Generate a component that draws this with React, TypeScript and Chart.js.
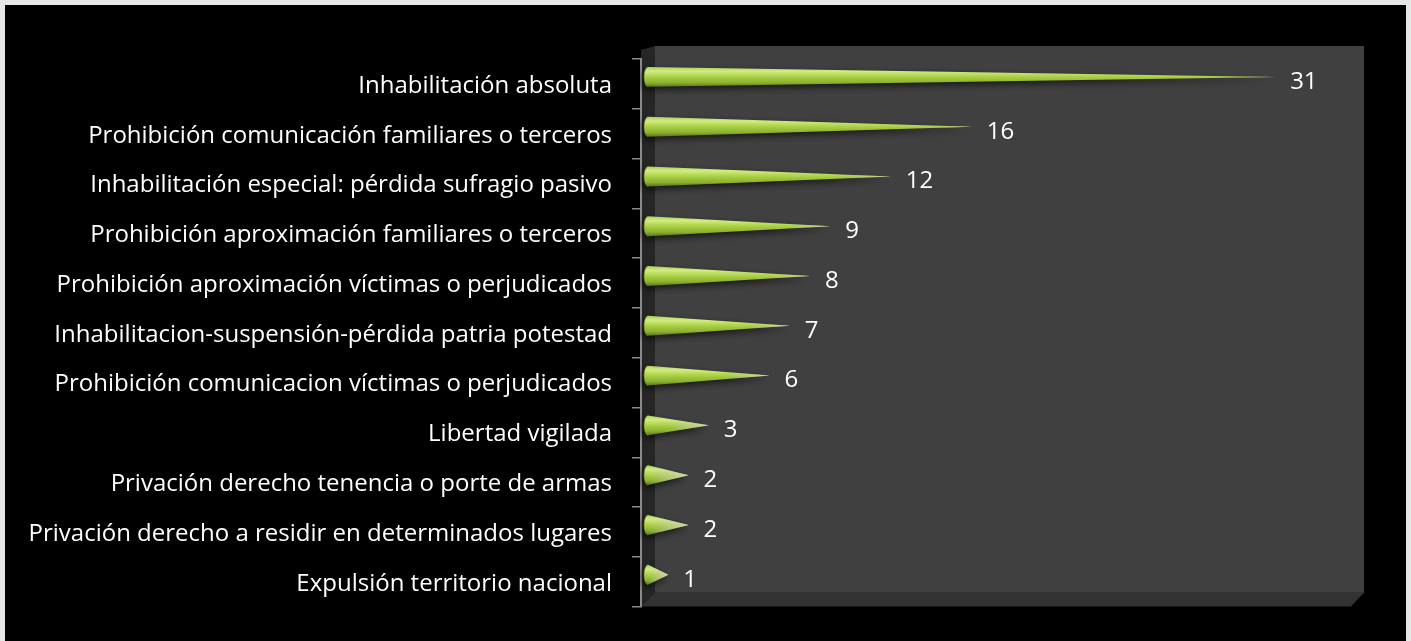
import React, { useEffect, useRef } from "react";
import { Chart, registerables } from "chart.js";

Chart.register(...registerables);

const categories: string[] = [
  "Inhabilitación absoluta",
  "Prohibición comunicación familiares o terceros",
  "Inhabilitación especial: pérdida sufragio pasivo",
  "Prohibición aproximación familiares o terceros",
  "Prohibición aproximación víctimas o perjudicados",
  "Inhabilitacion-suspensión-pérdida patria potestad",
  "Prohibición comunicacion víctimas o perjudicados",
  "Libertad vigilada",
  "Privación derecho tenencia o porte de armas",
  "Privación derecho a residir en determinados lugares",
  "Expulsión territorio nacional",
];

const values: number[] = [31, 16, 12, 9, 8, 7, 6, 3, 2, 2, 1];

const FONT = "'Open Sans', 'DejaVu Sans', sans-serif";

const box3d = {
  id: "box3d",
  beforeDraw(chart: any) {
    const { ctx, chartArea } = chart;
    const { left, top, right, bottom } = chartArea;
    const dx = 14;
    const dy = 14;
    ctx.save();
    // back wall
    ctx.fillStyle = "#404040";
    ctx.fillRect(left + dx, top - 13, right + 13 - (left + dx), bottom - dy - (top - 13));
    // left wall
    ctx.fillStyle = "#262626";
    ctx.beginPath();
    ctx.moveTo(left, top - 9);
    ctx.lineTo(left + dx, top - 13);
    ctx.lineTo(left + dx, bottom - dy);
    ctx.lineTo(left, bottom);
    ctx.closePath();
    ctx.fill();
    // floor
    ctx.fillStyle = "#323232";
    ctx.beginPath();
    ctx.moveTo(left, bottom);
    ctx.lineTo(left + dx, bottom - dy);
    ctx.lineTo(right + 13, bottom - dy);
    ctx.lineTo(right, bottom);
    ctx.closePath();
    ctx.fill();
    ctx.strokeStyle = "#3a3a3a";
    ctx.lineWidth = 1;
    ctx.beginPath();
    ctx.moveTo(left + dx, bottom - dy + 0.5);
    ctx.lineTo(right + 13, bottom - dy + 0.5);
    ctx.stroke();
    ctx.restore();
  },
};

const cones = {
  id: "cones",
  afterDatasetsDraw(chart: any) {
    const { ctx } = chart;
    const meta = chart.getDatasetMeta(0);
    const data = chart.data.datasets[0].data as number[];
    meta.data.forEach((bar: any, i: number) => {
      const x0 = bar.base;
      const x1 = bar.x;
      const yc = bar.y - 7;
      const hh = bar.height / 2;
      const rx = 4;
      const path = () => {
        ctx.beginPath();
        ctx.moveTo(x0, yc - hh);
        ctx.lineTo(x1, yc);
        ctx.lineTo(x0, yc + hh);
        ctx.ellipse(x0, yc, rx, hh, 0, Math.PI / 2, (3 * Math.PI) / 2);
        ctx.closePath();
      };
      ctx.save();
      ctx.shadowColor = "rgba(0,0,0,0.65)";
      ctx.shadowBlur = 7;
      ctx.shadowOffsetX = -2;
      ctx.shadowOffsetY = 3;
      const g = ctx.createLinearGradient(0, yc - hh, 0, yc + hh);
      g.addColorStop(0, "#acce5c");
      g.addColorStop(0.22, "#d2ec80");
      g.addColorStop(0.5, "#aad046");
      g.addColorStop(0.8, "#8ab02e");
      g.addColorStop(1, "#58741c");
      path();
      ctx.fillStyle = g;
      ctx.fill();
      ctx.shadowColor = "transparent";
      const len = Math.max(1, x1 - x0);
      const h = ctx.createLinearGradient(x0, 0, x1, 0);
      h.addColorStop(0, "rgba(200,200,180,0)");
      h.addColorStop(Math.max(0, 1 - 40 / len), "rgba(200,200,180,0)");
      h.addColorStop(1, "rgba(215,215,200,0.85)");
      path();
      ctx.fillStyle = h;
      ctx.fill();
      ctx.beginPath();
      ctx.ellipse(x0, yc, rx, hh, 0, Math.PI / 2, (3 * Math.PI) / 2);
      ctx.strokeStyle = "rgba(120,150,40,0.6)";
      ctx.lineWidth = 1;
      ctx.stroke();
      ctx.fillStyle = "#ffffff";
      ctx.font = `24px ${FONT}`;
      ctx.textAlign = "left";
      ctx.textBaseline = "middle";
      ctx.fillText(String(data[i]), x1 + 15, bar.y - 2);
      ctx.restore();
    });
  },
};

export default function App() {
  const ref = useRef<HTMLCanvasElement>(null);
  useEffect(() => {
    if (!ref.current) return;
    const chart = new Chart(ref.current, {
      type: "bar",
      data: {
        labels: categories,
        datasets: [
          {
            data: values,
            backgroundColor: "rgba(0,0,0,0)",
            borderWidth: 0,
            categoryPercentage: 1,
            barPercentage: 0.4,
          },
        ],
      },
      options: {
        indexAxis: "y",
        animation: false,
        responsive: false,
        devicePixelRatio: 1,
        layout: { padding: { left: 0, top: 54, right: 55, bottom: 34 } },
        plugins: {
          legend: { display: false },
          tooltip: { enabled: false },
        },
        scales: {
          x: {
            display: false,
            min: -0.35,
            max: 34.75,
          },
          y: {
            afterFit: (scale: any) => {
              scale.width = 636;
            },
            grid: {
              display: true,
              drawOnChartArea: false,
              drawTicks: true,
              tickLength: 9,
              color: "#8a8a8a",
              offset: true,
              lineWidth: 1.5,
            },
            border: { display: true, color: "#8a8a8a", width: 2 },
            ticks: {
              color: "#ffffff",
              padding: 20,
              labelOffset: 2,
              font: { family: FONT, size: 24 },
              autoSkip: false,
            },
          },
        },
      },
      plugins: [box3d, cones],
    });
    return () => chart.destroy();
  }, []);
  return (
    <div
      style={{
        position: "fixed",
        left: 0,
        top: 0,
        width: 1411,
        height: 641,
        background: "#e6e6e6",
      }}
    >
      <div
        style={{
          position: "absolute",
          left: 5,
          top: 5,
          width: 1401,
          height: 636,
          background: "#000",
        }}
      >
        <canvas ref={ref} width={1401} height={636} style={{ display: "block" }} />
      </div>
    </div>
  );
}
